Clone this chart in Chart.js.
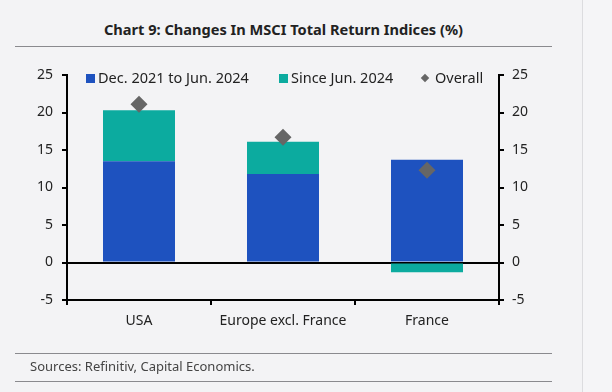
<!DOCTYPE html>
<html>
<head>
<meta charset="utf-8">
<script src="https://cdn.jsdelivr.net/npm/chart.js@4/dist/chart.umd.min.js"></script>
<style>
  html, body { margin: 0; padding: 0; }
  body { width: 612px; height: 392px; background: #f3f3f5; position: relative; overflow: hidden; font-family: "Noto Sans", sans-serif; color: #222; }
  .side { position: absolute; left: 582px; top: 0; width: 30px; height: 392px; background: #f5f5f7; border-left: 1px solid #dcdcdf; }
  .title { position: absolute; left: 15px; width: 537px; top: 19px; text-align: center; font-weight: bold; font-size: 14.6px; color: #222; }
  .rule { position: absolute; left: 15px; width: 537px; height: 1px; background: #8a8a8e; }
  .source { position: absolute; left: 30px; top: 357px; font-size: 13px; color: #444; }
  .legend { position: absolute; top: 67px; font-size: 14.5px; color: #222; white-space: nowrap; }
  .legend .box { display: inline-block; width: 9px; height: 9px; margin-right: 3px; vertical-align: 0px; }
  .legend .dia { display: inline-block; width: 6px; height: 6px; background: #666; transform: rotate(45deg); margin-right: 7px; vertical-align: 2px; }
  #wrap { position: absolute; left: 0; top: 0; width: 612px; height: 392px; }
</style>
</head>
<body>
<div class="side"></div>
<div class="title">Chart 9: Changes In MSCI Total Return Indices (%)</div>
<div class="rule" style="top:46px"></div>
<div id="wrap"><canvas id="chart" width="612" height="392"></canvas></div>
<div id="legend"></div>
<div class="rule" style="top:353px"></div>
<div class="source">Sources: Refinitiv, Capital Economics.</div>
<div class="rule" style="top:381px"></div>
<script>
const categories = ['USA', 'Europe excl. France', 'France'];
const seriesLabels = ['Dec. 2021 to Jun. 2024', 'Since Jun. 2024', 'Overall'];
const toJun2024 = [13.5, 11.8, 13.7];
const sinceJun2024 = [6.8, 4.3, -1.3];
const overall = [21.1, 16.7, 12.3];
const yTicks = [-5, 0, 5, 10, 15, 20, 25];

const BLUE = '#1e52bf';
const TEAL = '#0cab9f';
const GREY = '#666666';

// legend as text over the plot, like the original
const legendItems = [
  { x: 86, html: `<span class="box" style="background:${BLUE}"></span>${seriesLabels[0]}` },
  { x: 279, html: `<span class="box" style="background:${TEAL}"></span>${seriesLabels[1]}` },
  { x: 422, html: `<span class="dia"></span>${seriesLabels[2]}` }
];
const legendEl = document.getElementById('legend');
legendItems.forEach(it => {
  const d = document.createElement('div');
  d.className = 'legend';
  d.style.left = it.x + 'px';
  d.innerHTML = it.html;
  legendEl.appendChild(d);
});

const tickFont = { family: 'Noto Sans', size: 14 };
const axisGrid = { drawOnChartArea: false, drawTicks: true, tickLength: 5, tickColor: '#000', lineWidth: 2 };

new Chart(document.getElementById('chart'), {
  data: {
    labels: categories,
    datasets: [
      { type: 'bar', label: seriesLabels[0], data: toJun2024, backgroundColor: BLUE, stack: 'bars', order: 2,
        barPercentage: 1, categoryPercentage: 0.5 },
      { type: 'bar', label: seriesLabels[1], data: sinceJun2024, backgroundColor: TEAL, stack: 'bars', order: 2,
        barPercentage: 1, categoryPercentage: 0.5 },
      { type: 'line', label: seriesLabels[2], data: overall, stack: 'overall', showLine: false, order: 1,
        pointStyle: 'rectRot', pointRadius: 8.5, pointBackgroundColor: GREY, pointBorderColor: GREY, pointBorderWidth: 0 }
    ]
  },
  options: {
    responsive: false,
    animation: false,
    layout: { padding: { left: 0, right: 0, top: 75, bottom: 52 } },
    plugins: { legend: { display: false }, tooltip: { enabled: false } },
    scales: {
      x: {
        offset: true,
        grid: { ...axisGrid, offset: true },
        border: { color: '#000', width: 2 },
        ticks: { color: '#222', font: tickFont, padding: 8, maxRotation: 0 },
        afterFit: s => { s.height = 40; }
      },
      y: {
        stacked: true,
        min: -5, max: 25,
        afterBuildTicks: s => { s.ticks = yTicks.map(v => ({ value: v })); },
        grid: { drawOnChartArea: true, drawTicks: true, tickLength: 5, tickColor: '#000', lineWidth: 2,
                color: c => (c.tick && c.tick.value === 0) ? '#000' : 'rgba(0,0,0,0)' },
        border: { color: '#000', width: 2 },
        ticks: { color: '#222', font: tickFont, padding: 9 },
        afterFit: s => { s.width = 67; }
      },
      y2: {
        position: 'right',
        min: -5, max: 25,
        afterBuildTicks: s => { s.ticks = yTicks.map(v => ({ value: v })); },
        grid: axisGrid,
        border: { color: '#000', width: 2 },
        ticks: { color: '#222', font: tickFont, padding: 8 },
        afterFit: s => { s.width = 113; }
      }
    }
  }
});
</script>
</body>
</html>
